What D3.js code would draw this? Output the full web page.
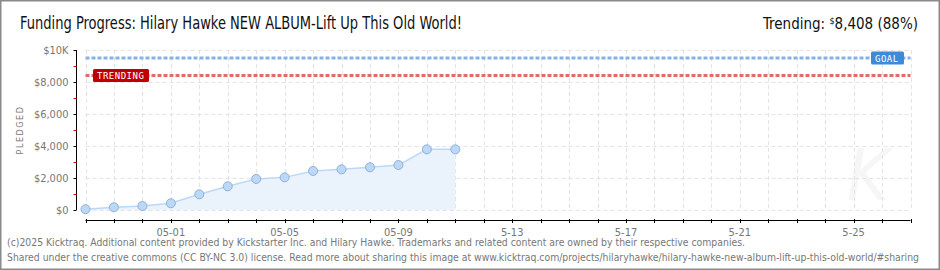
<!DOCTYPE html>
<html>
<head>
<meta charset="utf-8">
<script src="https://cdn.jsdelivr.net/npm/d3@7"></script>
<style>
  body { margin: 0; background: #fff; }
  svg { display: block; }
</style>
</head>
<body>
<svg id="chart"></svg>
<script>
// values
const dates = ["2025-04-28","2025-04-29","2025-04-30","2025-05-01","2025-05-02","2025-05-03","2025-05-04",
    "2025-05-05","2025-05-06","2025-05-07","2025-05-08","2025-05-09","2025-05-10","2025-05-11"];
const pledged = [50, 170, 250, 420, 980, 1480, 1940, 2040, 2440, 2540, 2670, 2810, 3790, 3790];
const goal = 9500;
const trending = 8408;
const yTicks = [0, 2000, 4000, 6000, 8000, 10000];
const yTickLabels = ["$0", "$2,000", "$4,000", "$6,000", "$8,000", "$10K"];
const xTickDates = ["2025-05-01","2025-05-05","2025-05-09","2025-05-13","2025-05-17","2025-05-21","2025-05-25"];
const xTickLabels = ["05-01", "05-05", "05-09", "5-13", "5-17", "5-21", "5-25"];
const startDate = "2025-04-28", endDate = "2025-05-27";

const width = 940, height = 270;
const parse = d3.utcParse("%Y-%m-%d");
const data = dates.map((d, i) => ({ date: parse(d), value: pledged[i] }));

const x = d3.scaleUtc().domain([parse(startDate), parse(endDate)]).range([85.5, 910.5]);
const y = d3.scaleLinear().domain([0, 10000]).range([210, 50]);

const svg = d3.select("#chart")
    .attr("width", width)
    .attr("height", height)
    .attr("font-family", "'Liberation Sans Narrow', 'DejaVu Sans Condensed', sans-serif");

svg.append("rect")
    .attr("x", 0.5).attr("y", 0.5)
    .attr("width", width - 1).attr("height", height - 1)
    .attr("fill", "#fff").attr("stroke", "#8a8a8a").attr("stroke-width", 2);

// title + trending
svg.append("text")
    .attr("x", 20).attr("y", 29)
    .attr("font-size", 17).attr("fill", "#111")
    .attr("textLength", 442).attr("lengthAdjust", "spacingAndGlyphs")
    .text("Funding Progress: Hilary Hawke NEW ALBUM-Lift Up This Old World!");

const tr = svg.append("text")
    .attr("x", 918).attr("y", 29)
    .attr("text-anchor", "end")
    .attr("font-size", 15).attr("fill", "#111");
tr.append("tspan").text("Trending:  ");
tr.append("tspan").attr("font-size", 9).attr("dy", -5).text("$");
tr.append("tspan").attr("dy", 5).text(d3.format(",")(trending) + " (" + Math.floor(trending / goal * 100) + "%)");

// watermark
svg.append("text")
    .attr("x", 868).attr("y", 200)
    .attr("text-anchor", "middle")
    .attr("font-size", 72).attr("font-style", "italic")
    .attr("fill", "#f6f6f6")
    .text("K");

// grid
const days = d3.utcDay.range(parse(startDate), d3.utcDay.offset(parse(endDate), 1));
svg.append("g")
    .attr("stroke", "#e3e3e3").attr("stroke-dasharray", "4,3")
    .selectAll("line")
    .data(days)
    .join("line")
    .attr("x1", d => Math.round(x(d)) + 0.5).attr("x2", d => Math.round(x(d)) + 0.5)
    .attr("y1", y(10000)).attr("y2", y(0));
svg.append("g")
    .attr("stroke", "#e3e3e3").attr("stroke-dasharray", "4,3")
    .selectAll("line")
    .data(yTicks)
    .join("line")
    .attr("x1", x.range()[0]).attr("x2", x.range()[1])
    .attr("y1", d => y(d) + 0.5).attr("y2", d => y(d) + 0.5);

// y axis
const yAxis = svg.append("g").attr("transform", "translate(76.5,0)");
yAxis.append("line").attr("y1", y(10000)).attr("y2", y(0)).attr("stroke", "#000").attr("stroke-width", 1);
yAxis.selectAll(".minor")
    .data(d3.range(1000, 10000, 2000))
    .join("line")
    .attr("x1", -3).attr("x2", 0)
    .attr("y1", d => y(d) + 0.5).attr("y2", d => y(d) + 0.5)
    .attr("stroke", "#e00000");
yAxis.selectAll(".major")
    .data(yTicks)
    .join("line")
    .attr("x1", -3).attr("x2", 0)
    .attr("y1", d => y(d) + 0.5).attr("y2", d => y(d) + 0.5)
    .attr("stroke", "#000");
yAxis.selectAll("text")
    .data(yTicks)
    .join("text")
    .attr("x", -8).attr("y", d => y(d) + 4)
    .attr("text-anchor", "end")
    .attr("font-size", 11).attr("fill", "#777")
    .text((d, i) => yTickLabels[i]);

svg.append("text")
    .attr("transform", "translate(23,130) rotate(-90)")
    .attr("text-anchor", "middle")
    .attr("font-size", 9).attr("letter-spacing", 1.5).attr("fill", "#777")
    .text("PLEDGED");

// x axis
const xAxis = svg.append("g").attr("transform", "translate(0,220.5)");
xAxis.append("line").attr("x1", x.range()[0]).attr("x2", x.range()[1]).attr("stroke", "#000");
xAxis.selectAll(".tick")
    .data(days)
    .join("line")
    .attr("x1", d => Math.round(x(d)) + 0.5).attr("x2", d => Math.round(x(d)) + 0.5)
    .attr("y1", -1.5).attr("y2", 2.5)
    .attr("stroke", "#000");
xAxis.selectAll("text")
    .data(xTickDates)
    .join("text")
    .attr("x", d => x(parse(d)))
    .attr("y", 15)
    .attr("text-anchor", "middle")
    .attr("font-size", 11).attr("fill", "#777")
    .text((d, i) => xTickLabels[i]);

// area + line
svg.append("path")
    .datum(data)
    .attr("fill", "#eaf2fc")
    .attr("d", d3.area().x(d => x(d.date)).y0(y(0)).y1(d => y(d.value)));
svg.append("path")
    .datum(data)
    .attr("fill", "none").attr("stroke", "#bcd8f7").attr("stroke-width", 1.5)
    .attr("d", d3.line().x(d => x(d.date)).y(d => y(d.value)));
svg.append("g")
    .selectAll("circle")
    .data(data)
    .join("circle")
    .attr("cx", d => x(d.date)).attr("cy", d => y(d.value))
    .attr("r", 4.5)
    .attr("fill", "#bcd8f7").attr("stroke", "#8fb0d8").attr("stroke-width", 1);

// goal + trending lines
svg.append("line")
    .attr("x1", x.range()[0]).attr("x2", x.range()[1])
    .attr("y1", y(goal)).attr("y2", y(goal))
    .attr("stroke", "#86b2e2").attr("stroke-width", 3).attr("stroke-dasharray", "4,2");
svg.append("line")
    .attr("x1", x.range()[0]).attr("x2", x.range()[1])
    .attr("y1", y(trending)).attr("y2", y(trending))
    .attr("stroke", "#e06c6c").attr("stroke-width", 3).attr("stroke-dasharray", "4,2");

// labels
function badge(cx, cy, w, fill, label) {
    svg.append("rect")
        .attr("x", cx).attr("y", cy - 6.5)
        .attr("width", w).attr("height", 13).attr("rx", 1.5)
        .attr("fill", fill);
    svg.append("text")
        .attr("x", cx + 4).attr("y", cy + 4)
        .attr("font-family", "'DejaVu Sans Mono', monospace")
        .attr("font-size", 9).attr("letter-spacing", 0.5).attr("fill", "#fff")
        .text(label);
}
badge(871, y(goal), 33, "#3d8ad9", "GOAL");
badge(93, y(trending), 56, "#c00000", "TRENDING");

// footer
const foot = svg.append("g").attr("font-size", 10).attr("fill", "#777");
foot.append("text").attr("x", 7).attr("y", 246)
    .attr("textLength", 738).attr("lengthAdjust", "spacingAndGlyphs")
    .text("(c)2025 Kicktraq. Additional content provided by Kickstarter Inc. and Hilary Hawke. Trademarks and related content are owned by their respective companies.");
foot.append("text").attr("x", 7).attr("y", 261)
    .attr("textLength", 912).attr("lengthAdjust", "spacingAndGlyphs")
    .text("Shared under the creative commons (CC BY-NC 3.0) license. Read more about sharing this image at www.kicktraq.com/projects/hilaryhawke/hilary-hawke-new-album-lift-up-this-old-world/#sharing");
</script>
</body>
</html>
